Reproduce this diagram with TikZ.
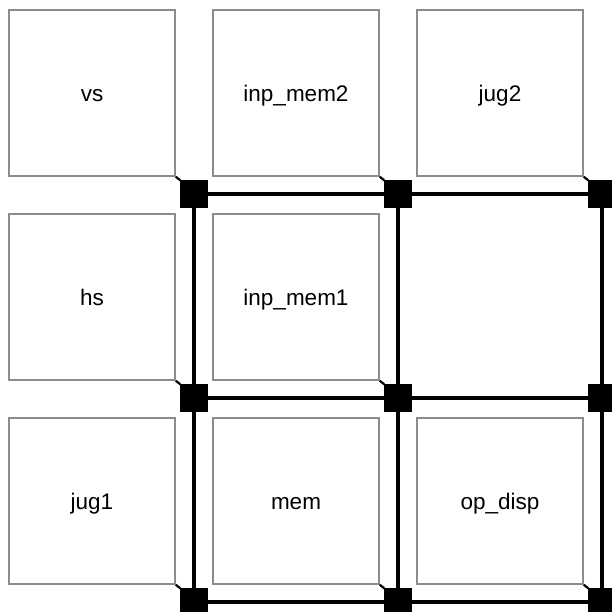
\documentclass[tikz,border=0pt]{standalone}
\usepackage{fontspec}
\setmainfont{Liberation Sans}
\definecolor{boxgray}{RGB}{140,140,140}
\newcommand{\celltext}[1]{\raisebox{-8pt}[0pt][0pt]{#1}}
\tikzset{
  cellbox/.style={draw=boxgray, line width=1.5pt, fill=white, minimum width=166pt, minimum height=166pt, inner sep=0pt, font=\fontsize{22.5}{26}\selectfont},
  junction/.style={fill=black, draw=none, minimum size=27pt, inner sep=0pt},
  wire/.style={line width=3.2pt, black},
  tick/.style={line width=2.2pt, black}
}
\begin{document}
\begin{tikzpicture}[x=1pt,y=-1pt]
\useasboundingbox (0,0) rectangle (612,611);
% junction nodes
\foreach \i in {0,1,2} {
  \foreach \j in {0,1,2} {
    \node[junction] (s\i\j) at ({194+204*\i},{194+204*\j}) {};
  }
}
% wires
\foreach \j in {0,1,2} {
  \draw[wire] (s0\j.center) -- (s1\j.center);
  \draw[wire] (s1\j.center) -- (s2\j.center);
}
\foreach \i in {0,1,2} {
  \draw[wire] (s\i0.center) -- (s\i1.center);
  \draw[wire] (s\i1.center) -- (s\i2.center);
}
% boxes
\node[cellbox] (b00) at (92,93) {\celltext{vs}};
\node[cellbox] (b10) at (296,93) {\celltext{inp\_mem2}};
\node[cellbox] (b20) at (500,93) {\celltext{jug2}};
\node[cellbox] (b01) at (92,297) {\celltext{hs}};
\node[cellbox] (b11) at (296,297) {\celltext{inp\_mem1}};
\node[cellbox] (b02) at (92,501) {\celltext{jug1}};
\node[cellbox] (b12) at (296,501) {\celltext{mem}};
\node[cellbox] (b22) at (500,501) {\celltext{op\_disp}};
% junction squares on top
\foreach \i in {0,1,2} {
  \foreach \j in {0,1,2} {
    \fill[black] (s\i\j.south west) rectangle (s\i\j.north east);
  }
}
% ticks from box corners to junctions
\foreach \b/\s in {b00/s00, b10/s10, b20/s20, b01/s01, b11/s11, b02/s02, b12/s12, b22/s22} {
  \draw[tick] (\b.south east) -- (\s.north west);
}
\end{tikzpicture}
\end{document}
